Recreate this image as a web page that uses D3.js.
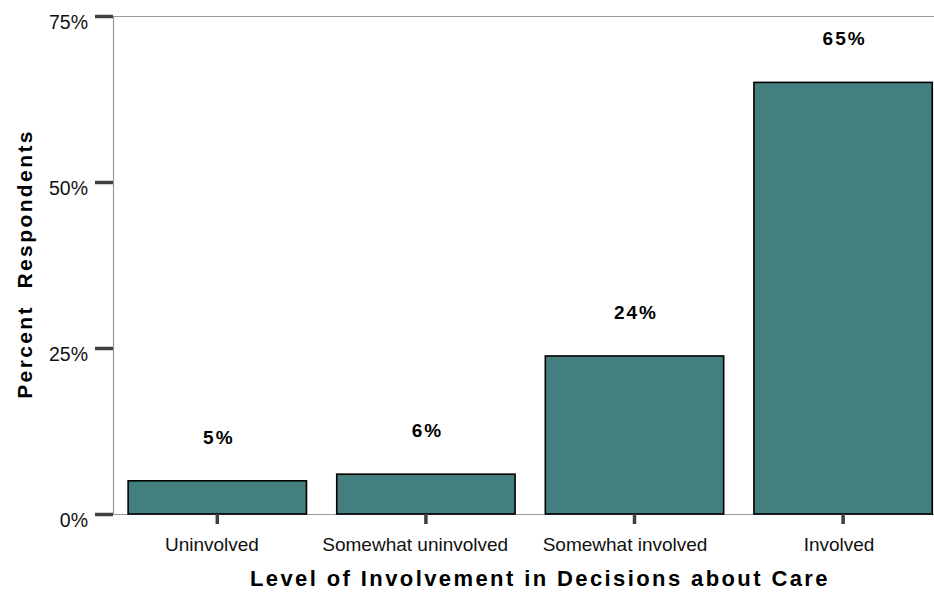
<!DOCTYPE html>
<html><head><meta charset="utf-8">
<script src="https://cdn.jsdelivr.net/npm/d3@7"></script>
<style>body{margin:0;background:#fff;} svg{display:block;font-family:"Liberation Sans",Arial,sans-serif;}</style>
</head><body>
<script>
const categories = ["Uninvolved", "Somewhat uninvolved", "Somewhat involved", "Involved"];
const values = [5, 6, 23.8, 65];
const valueLabels = ["5%", "6%", "24%", "65%"];
const yTicks = [0, 25, 50, 75];
const yTickLabels = ["0%", "25%", "50%", "75%"];
const xTitle = "Level of Involvement in Decisions about Care";
const yTitle = "Percent  Respondents";

(function () {
const W = 934, H = 592;
const svg = d3.select("body").append("svg").attr("width", W).attr("height", H);
const pLeft = 113, pTop = 16, pBottom = 514, pRight = 934;

const y = d3.scaleLinear().domain([0, 75]).range([pBottom, pTop]);
const x = d3.scaleBand().domain(categories).range([pLeft, pLeft + 4 * 208.6])
  .paddingInner(0.145).paddingOuter(0.0725);

// frame lines
svg.append("line").attr("x1", pLeft).attr("x2", pRight).attr("y1", pTop + 0.5).attr("y2", pTop + 0.5)
  .attr("stroke", "#999").attr("stroke-width", 1.2);
svg.append("line").attr("x1", pLeft + 0.5).attr("x2", pLeft + 0.5).attr("y1", pTop).attr("y2", pBottom)
  .attr("stroke", "#999").attr("stroke-width", 1.2);
svg.append("line").attr("x1", pLeft).attr("x2", pRight).attr("y1", pBottom + 0.5).attr("y2", pBottom + 0.5)
  .attr("stroke", "#999").attr("stroke-width", 1.2);

// y axis
const yAxis = d3.axisLeft(y).tickValues(yTicks).tickSize(18).tickPadding(7)
  .tickFormat((d, i) => yTickLabels[i]);
const gy = svg.append("g").attr("transform", `translate(${pLeft},0)`).call(yAxis);
gy.select(".domain").remove();
gy.selectAll(".tick line").attr("stroke", "#404040").attr("stroke-width", 3.5);
gy.selectAll(".tick text").attr("font-size", 19.5).attr("fill", "#111")
  .attr("font-family", "'Liberation Sans',Arial,sans-serif").attr("dy", "0.62em");

// bars
svg.selectAll("rect.bar").data(categories).enter().append("rect").attr("class", "bar")
  .attr("x", d => x(d)).attr("width", x.bandwidth())
  .attr("y", (d, i) => y(values[i])).attr("height", (d, i) => y(0) - y(values[i]))
  .attr("fill", "#437F7E").attr("stroke", "#000").attr("stroke-width", 1.6);

// x axis
const xAxis = d3.axisBottom(x).tickSize(10).tickPadding(14);
const gx = svg.append("g").attr("transform", `translate(0,${pBottom})`).call(xAxis);
gx.select(".domain").remove();
gx.selectAll(".tick line").attr("stroke", "#404040").attr("stroke-width", 3.5);
gx.selectAll(".tick text").attr("font-size", 19).attr("fill", "#111")
  .attr("font-family", "'Liberation Sans',Arial,sans-serif")
  .attr("text-anchor", "start")
  .attr("x", function () { return -1.115 * this.getComputedTextLength() / 2; });

// value labels
svg.selectAll("text.val").data(categories).enter().append("text").attr("class", "val")
  .attr("x", d => x(d) + x.bandwidth() / 2 + 1.5)
  .attr("y", (d, i) => y(values[i]) - 37)
  .attr("text-anchor", "middle").attr("font-size", 19).attr("font-weight", "bold")
  .attr("letter-spacing", "2px").attr("fill", "#000")
  .text((d, i) => valueLabels[i]);

// titles
svg.append("text").attr("x", 540).attr("y", 586).attr("text-anchor", "middle")
  .attr("font-size", 22).attr("font-weight", "bold").attr("letter-spacing", "2.4px").attr("fill", "#000")
  .text(xTitle);
svg.append("text").attr("transform", "translate(32,264) rotate(-90)").attr("text-anchor", "middle")
  .attr("font-size", 21).attr("font-weight", "bold").attr("letter-spacing", "2.4px").attr("fill", "#000")
  .style("white-space", "pre")
  .text(yTitle);
})();
</script>
</body></html>
